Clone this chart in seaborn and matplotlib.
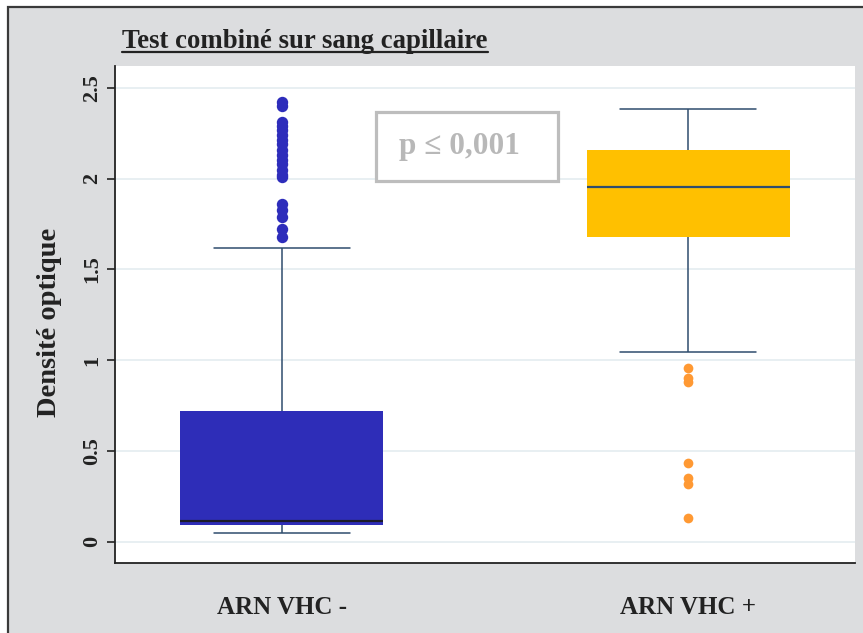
import pandas as pd
import seaborn as sns
import matplotlib.pyplot as plt
from matplotlib.patches import Rectangle
from matplotlib.lines import Line2D

# Données
groupes = ["ARN VHC -", "ARN VHC +"]
# résumé en 5 points : moustache basse, Q1, médiane, Q3, moustache haute
resume_neg = [0.05, 0.094, 0.116, 0.72, 1.62]
resume_pos = [1.046, 1.68, 1.955, 2.16, 2.385]
# valeurs extrêmes (points isolés)
extremes_neg = [2.42, 2.40, 2.31, 2.29, 2.27, 2.24, 2.21, 2.19, 2.16, 2.13,
                2.10, 2.08, 2.05, 2.02, 2.01, 1.86, 1.83, 1.79, 1.72, 1.68]
extremes_pos = [0.955, 0.90, 0.88, 0.435, 0.35, 0.32, 0.13]
yticks = [0, 0.5, 1, 1.5, 2, 2.5]
ytick_labels = ["0", "0.5", "1", "1.5", "2", "2.5"]

couleurs_boites = ["#2E2DB8", "#FFC000"]
couleurs_points = ["#2E2DBB", "#FF9933"]
tailles_points = [8.2, 7.0]
couleurs_medianes = ["#1C1C2A", "#2F4D6E"]
gris_fond = "#DCDDDF"
trait = "#2F4D6E"

df_box = pd.DataFrame({
    "groupe": [groupes[0]] * len(resume_neg) + [groupes[1]] * len(resume_pos),
    "do": resume_neg + resume_pos,
})

sns.set_style("white")
plt.rcParams["font.family"] = ["Liberation Serif", "DejaVu Serif"]
plt.rcParams["font.weight"] = "bold"

fig = plt.figure(figsize=(8.63, 6.33), dpi=100, facecolor="white")
# cadre gris du graphique
fig.add_artist(Rectangle((8 / 863, -0.1), 1.2, 1 - 7 / 633 + 0.1,
                         transform=fig.transFigure, facecolor=gris_fond,
                         edgecolor="#3A3A3A", lw=1.6, zorder=0))
ax = fig.add_axes([115 / 863, 1 - 563 / 633, 740 / 863, 497 / 633])
ax.set_facecolor("white")

sns.boxplot(data=df_box, x="groupe", y="do", hue="groupe", order=groupes,
            palette=couleurs_boites, saturation=1, width=0.5, whis=1.5,
            linecolor=trait, linewidth=1.1, showfliers=False, legend=False,
            capwidths=0.335, boxprops=dict(linewidth=0), ax=ax)
for cont, c in zip(ax.containers, couleurs_medianes):
    for m in cont.medians:
        m.set_color(c)
        m.set_linewidth(1.6)

for g, vals, c, s in zip(groupes, [extremes_neg, extremes_pos],
                         couleurs_points, tailles_points):
    sns.stripplot(x=[g] * len(vals), y=vals, order=groupes, color=c,
                  jitter=False, size=s, linewidth=0, ax=ax, zorder=3)

ax.set_xlim(-0.41, 1.41)
ax.set_ylim(-0.116, 2.62)
ax.set_yticks(yticks)
ax.set_yticklabels(ytick_labels, rotation=90, va="center", fontsize=16,
                   fontweight="bold", color="#222222")
ax.tick_params(axis="y", direction="out", length=6, width=1.2, color="#222222",
               pad=3, left=True)
ax.tick_params(axis="x", length=0, pad=24, labelsize=18)
for lab in ax.get_xticklabels():
    lab.set_fontweight("bold")
    lab.set_color("#222222")
ax.yaxis.grid(True, color="#E6EEF1", lw=1.3)
ax.xaxis.grid(False)
ax.set_axisbelow(True)

for s in ["top", "right"]:
    ax.spines[s].set_visible(False)
for s in ["left", "bottom"]:
    ax.spines[s].set_color("#222222")
    ax.spines[s].set_linewidth(1.3)

ax.set_xlabel("")
ax.set_ylabel("Densité optique", fontsize=20.5, fontweight="bold", color="#222222")
ax.yaxis.set_label_coords(-0.072, 0.485)

# encadré p
ax.add_patch(Rectangle((0.3527, 0.7686), 0.246, 0.1388, transform=ax.transAxes,
                       facecolor="white", edgecolor="#BDBDBD", lw=2.3, zorder=4))
ax.text(0.4649, 0.839, "p ≤ 0,001", transform=ax.transAxes, ha="center",
        va="center", fontsize=22.5, fontweight="bold", color="#B8B8B8", zorder=5)

# titre souligné
titre = fig.text(122 / 863, 1 - 48 / 633, "Test combiné sur sang capillaire",
                 fontsize=19.3, fontweight="bold", color="#222222", va="baseline")
fig.canvas.draw()
bb = titre.get_window_extent().transformed(fig.transFigure.inverted())
fig.add_artist(Line2D([bb.x0, bb.x1], [1 - 52 / 633] * 2,
                      transform=fig.transFigure, color="#222222", lw=1.6))

fig.savefig("out.png", dpi=100)
